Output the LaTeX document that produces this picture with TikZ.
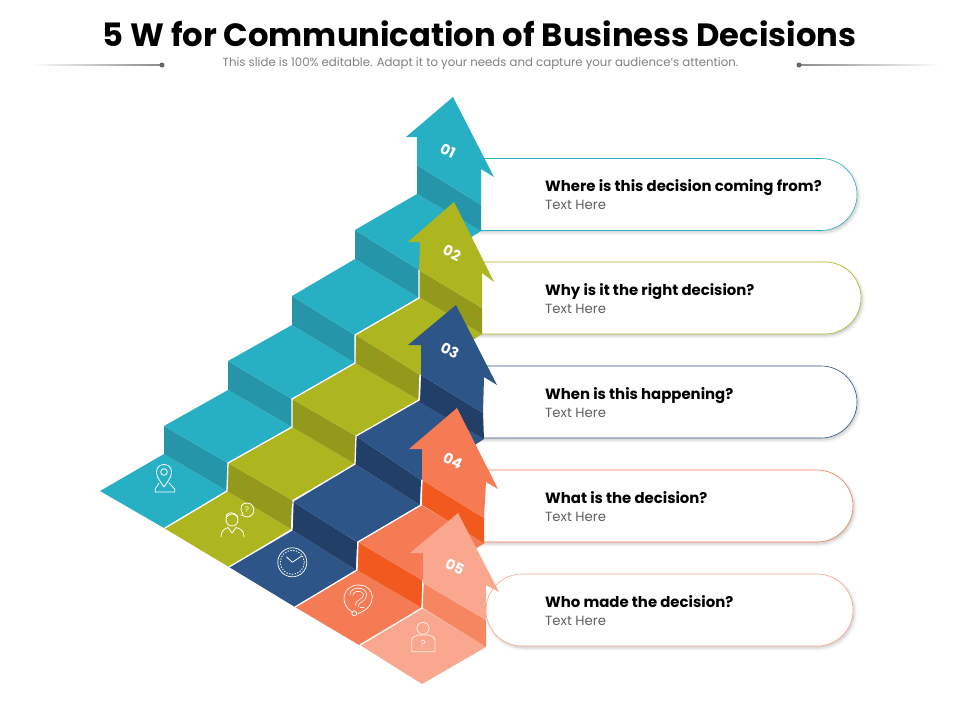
\documentclass[tikz,border=0pt]{standalone}
\usepackage{fontspec}
\setmainfont{Poppins}
\usetikzlibrary{shadows.blur,shapes.misc}
\definecolor{tealtop}{HTML}{27AFC4}
\definecolor{tealdark}{HTML}{2596A9}
\definecolor{olivetop}{HTML}{AEB61F}
\definecolor{olivedark}{HTML}{939A1B}
\definecolor{navytop}{HTML}{2D5588}
\definecolor{navydark}{HTML}{223F68}
\definecolor{orangetop}{HTML}{F57B55}
\definecolor{orangedark}{HTML}{F2591F}
\definecolor{salmontop}{HTML}{F9A88F}
\definecolor{salmondark}{HTML}{F68660}
\tikzset{
  pill/.style={rounded rectangle, draw=#1, line width=0.6pt, fill=white, minimum height=72pt, inner sep=0pt, outer sep=0pt,
    blur shadow={shadow xshift=1.5pt, shadow yshift=-2pt, shadow blur radius=3pt, shadow opacity=22}},
  head/.style={anchor=base west, inner sep=0pt, font=\fontsize{14.9}{16}\selectfont\bfseries, text=black},
  sub/.style={anchor=base west, inner sep=0pt, font=\fontsize{13.3}{14}\selectfont, text=black!62},
  num/.style={inner sep=0pt, rotate=-26, font=\fontsize{14.5}{16}\selectfont\bfseries, text=white},
  edge/.style={draw=white, line width=1.3pt},
  icon/.style={draw=white, line width=0.8pt, line join=round, line cap=round},
  qmark/.style={inner sep=0pt, text=white},
}
\begin{document}
\begin{tikzpicture}[x=1pt, y=-1pt]
  \useasboundingbox (0,0) rectangle (960,720);

  % title
  \node[inner sep=0pt] at (479.5,34) (title) {\fontsize{32.2}{36}\selectfont\bfseries 5 W for Communication of Business Decisions};
  \node[inner sep=0pt, text=black!50] at (480.5,63.5) (subtitle) {\fontsize{11.75}{13}\selectfont This slide is 100\% editable. Adapt it to your needs and capture your audience's attention.};
  \fill[left color=white, right color=black!45] (30,64.7) rectangle (160,65.4);
  \fill[left color=black!45, right color=white] (800,64.7) rectangle (940,65.4);
  \fill[black!60] (162,65) circle (2.5pt);
  \fill[black!60] (799,65) circle (2.5pt);

  % pills
  \node[pill=tealtop, minimum width=417pt] at (648.5,194.5) (pill1) {};
  \node[pill=olivetop, minimum width=421pt] at (650.5,298) (pill2) {};
  \node[pill=navytop, minimum width=417pt] at (648.5,402) (pill3) {};
  \node[pill=orangetop, minimum width=413pt] at (646.5,506) (pill4) {};
  \node[pill=salmontop, minimum width=367pt] at (669.5,610) (pill5) {};

  \node[head] at (545,191) (head1) {Where is this decision coming from?};
  \node[sub] at (545,209) (sub1) {Text Here};
  \node[head] at (545,295) (head2) {Why is it the right decision?};
  \node[sub] at (545,313) (sub2) {Text Here};
  \node[head] at (545,399) (head3) {When is this happening?};
  \node[sub] at (545,417) (sub3) {Text Here};
  \node[head] at (545,503) (head4) {What is the decision?};
  \node[sub] at (545,521) (sub4) {Text Here};
  \node[head] at (545,607) (head5) {Who made the decision?};
  \node[sub] at (545,625) (sub5) {Text Here};

  % teal stairs
  \fill[tealtop] (100,491) -- (164,454) -- (227,491) -- (164,528) -- cycle;
  \fill[tealdark] (164,426) -- (164,454) -- (227,491) -- (228,463) -- cycle;
  \fill[tealtop] (164,426) -- (228,390) -- (292,427) -- (228,463) -- cycle;
  \fill[tealdark] (228,361) -- (228,390) -- (292,427) -- (292,399) -- cycle;
  \fill[tealtop] (228,361) -- (292,325) -- (355,363) -- (292,399) -- cycle;
  \fill[tealdark] (292,296) -- (292,325) -- (355,363) -- (355,335) -- cycle;
  \fill[tealtop] (292,296) -- (355,259) -- (419,298) -- (355,335) -- cycle;
  \fill[tealdark] (355,230) -- (355,259) -- (419,298) -- (419,270) -- cycle;
  \fill[tealtop] (355,230) -- (417,194) -- (481,231) -- (419,270) -- cycle;
  \fill[tealdark] (417,165) -- (417,194) -- (481,231) -- (481,205) -- cycle;
  \fill[tealtop] (453,97) -- (406,137) -- (417,137) -- (417,165) -- (481,205) -- (481,169) -- (494,177) -- cycle;
  \node[num] at (448,151) (num1) {01};

  % olive stairs
  \fill[olivetop] (164,528) -- (227,491) -- (291,529) -- (229,567) -- cycle;
  \fill[olivedark] (228,463) -- (227,491) -- (291,529) -- (292,500) -- cycle;
  \fill[olivetop] (228,463) -- (292,427) -- (355,464) -- (292,500) -- cycle;
  \fill[olivedark] (292,399) -- (292,427) -- (355,464) -- (356,436) -- cycle;
  \fill[olivetop] (292,399) -- (355,363) -- (419,400) -- (356,436) -- cycle;
  \fill[olivedark] (356,335) -- (355,363) -- (419,400) -- (420,375) -- cycle;
  \fill[olivetop] (356,335) -- (419,297) -- (482,334) -- (420,375) -- cycle;
  \fill[olivedark] (419,270) -- (419,297) -- (482,334) -- (482,308) -- cycle;
  \fill[olivetop] (454,202) -- (408,242) -- (420,242) -- (419,270) -- (482,308) -- (482,273) -- (494,282) -- cycle;
  \draw[edge] (165,528) -- (227,491) -- (228,463) -- (292,427) -- (292,399) -- (355,363) -- (355,335) -- (419,298) -- (419,270);
  \node[num] at (452,253) (num2) {02};

  % navy stairs
  \fill[navytop] (229,567) -- (292,530) -- (356,570) -- (295,607) -- cycle;
  \fill[navydark] (292,501) -- (292,530) -- (356,570) -- (357,542) -- cycle;
  \fill[navytop] (292,501) -- (355,464) -- (420,505) -- (357,542) -- cycle;
  \fill[navydark] (356,436) -- (355,464) -- (420,505) -- (421,480) -- cycle;
  \fill[navytop] (356,436) -- (419,400) -- (484,439) -- (421,480) -- cycle;
  \fill[navydark] (421,375) -- (420,402) -- (484,439) -- (483,413) -- cycle;
  \fill[navytop] (456,305) -- (408,345) -- (421,345) -- (421,375) -- (483,413) -- (484,377) -- (497,385) -- cycle;
  \draw[edge] (229,567) -- (292,530) -- (293,501) -- (355,464) -- (356,436) -- (419,400) -- (420,375);
  \node[num] at (450,351) (num3) {03};

  % orange stairs
  \fill[orangetop] (295,607) -- (357,570) -- (422,608) -- (359,645) -- cycle;
  \fill[orangedark] (358,542) -- (357,570) -- (422,608) -- (422,580) -- cycle;
  \fill[orangetop] (358,542) -- (421,505) -- (485,543) -- (422,580) -- cycle;
  \fill[orangedark] (422,480) -- (422,505) -- (484,543) -- (484,518) -- cycle;
  \fill[orangetop] (457,408) -- (409,449) -- (422,449) -- (422,480) -- (484,518) -- (486,482) -- (498,489) -- cycle;
  \draw[edge] (295,607) -- (357,570) -- (358,542) -- (421,505) -- (422,480);
  \node[num] at (453,461) (num4) {04};

  % salmon stairs
  \fill[salmontop] (360,645) -- (422,608) -- (486,647) -- (422,684) -- cycle;
  \fill[salmondark] (423,583) -- (423,608) -- (486,647) -- (486,620) -- cycle;
  \fill[salmontop] (458,513) -- (410,553) -- (423,553) -- (423,583) -- (486,620) -- (486,585) -- (499,592) -- cycle;
  \draw[edge] (360,645) -- (422,608) -- (423,583);
  \node[num] at (455,567) (num5) {05};

  % pin icon
  \draw[icon] (164,487) .. controls (160,481) and (156.5,477) .. (156.5,472) .. controls (156.5,462) and (171.5,462) .. (171.5,472) .. controls (171.5,477) and (168,481) .. cycle;
  \draw[icon] (164,472) circle (3.3pt);
  \draw[icon] (159,483) -- (155.3,489) -- (155.3,492) -- (174.7,492) -- (174.7,489) -- (169,483);

  % person icon
  \draw[icon] (232,520) circle (6pt);
  \draw[icon] (226,518) .. controls (226,511) and (234,511) .. (238,517);
  \draw[icon] (221,537) .. controls (221,531) and (224,529) .. (228,527.5);
  \draw[icon] (244,537) .. controls (244,531) and (241,529) .. (236,527.5);
  \draw[icon] (228,527.5) -- (232,533) -- (236,527.5);
  \draw[icon] (241,515.5) -- (243,514.5) .. controls (238,506) and (243,503) .. (247,503) .. controls (256,503) and (256,517) .. (247,517) .. controls (245,517) and (244,516) .. (243,515.5) -- cycle;
  \node[qmark, font=\fontsize{8}{8}\selectfont] at (247,510) (markb) {?};

  % clock icon
  \draw[icon, line width=0.7pt] (292.3,562.3) circle (14.5pt);
  \draw[icon, dotted, line width=0.9pt] (292.3,562.3) circle (12pt);
  \draw[icon] (286.7,557) -- (292.3,562.3) -- (301.7,556);

  % question icon
  \draw[icon, line width=0.7pt] (353,612.5) .. controls (338,604) and (343,585) .. (358.3,585) .. controls (376,585) and (378,607) .. (358,613.5);
  \draw[icon, line width=0.7pt] (354.3,613.3) circle (2.5pt);
  \draw[white, line width=0.7pt, double=orangetop, double distance=2.4pt] (351.5,595) .. controls (351.5,588) and (365,588) .. (365,595) .. controls (365,601) and (357,600) .. (356.5,606);
  \draw[icon] (360,607) -- (364,607);

  % user icon
  \draw[icon, opacity=0.8] (423,628.3) circle (6pt);
  \draw[icon, opacity=0.8] (411.7,651.7) -- (411.7,641) .. controls (411.7,637) and (415,636) .. (418,635) -- (428,635) .. controls (432,636) and (435,637) .. (435,641) -- (435,651.7) -- cycle;
  \node[qmark, opacity=0.8, font=\fontsize{10}{10}\selectfont] at (423,643.5) (markq) {?};
\end{tikzpicture}
\end{document}
